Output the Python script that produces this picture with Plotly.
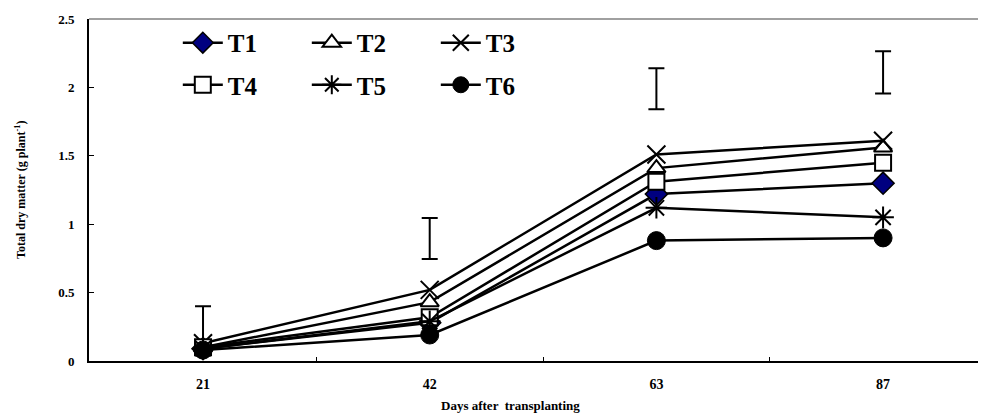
import plotly.graph_objects as go

days = ["21", "42", "63", "87"]
T1 = [0.09, 0.28, 1.22, 1.30]
T2 = [0.10, 0.43, 1.41, 1.56]
T3 = [0.13, 0.52, 1.51, 1.61]
T4 = [0.10, 0.32, 1.31, 1.45]
T5 = [0.09, 0.29, 1.12, 1.05]
T6 = [0.08, 0.19, 0.88, 0.90]
lsd_center = [0.25, 0.895, 1.99, 2.11]
lsd_half = [0.15, 0.15, 0.15, 0.155]

xpos = list(range(len(days)))
FONT = "Liberation Serif"

series = [
    ("T1", T1, dict(symbol="diamond", size=17, color="#000080", line=dict(color="black", width=1.5)), "legend"),
    ("T2", T2, dict(symbol="triangle-up", size=16, color="white", line=dict(color="black", width=2)), "legend"),
    ("T3", T3, dict(symbol="x-thin-open", size=18, color="black", line=dict(color="black", width=2)), "legend"),
    ("T4", T4, dict(symbol="square", size=16, color="white", line=dict(color="black", width=2)), "legend2"),
    ("T5", T5, dict(symbol="asterisk-open", size=18, color="black", line=dict(color="black", width=2)), "legend2"),
    ("T6", T6, dict(symbol="circle", size=18, color="black", line=dict(color="black", width=1)), "legend2"),
]

fig = go.Figure()
for name, vals, mk, lg in series:
    fig.add_trace(go.Scatter(
        x=xpos, y=vals, name=name, mode="lines+markers",
        line=dict(color="black", width=2.5), marker=mk, legend=lg,
    ))

fig.add_trace(go.Scatter(
    x=xpos, y=lsd_center, mode="markers", showlegend=False,
    marker=dict(size=1, color="rgba(0,0,0,0)"),
    error_y=dict(type="data", array=lsd_half, color="black", thickness=2, width=8),
    hoverinfo="skip",
))

legend_common = dict(
    orientation="h", font=dict(family=FONT, size=25, color="black", weight="bold"),
    bgcolor="rgba(0,0,0,0)", entrywidth=74, entrywidthmode="pixels",
    xanchor="left", yanchor="middle", itemwidth=40, tracegroupgap=0,
)

# page body has an 8px margin: compensate so the plot area lands at 89..986 x 19..361
fig.update_layout(
    width=986, height=417,
    margin=dict(l=81, r=8, t=11, b=64, autoexpand=False),
    paper_bgcolor="white", plot_bgcolor="white",
    showlegend=True,
    legend=dict(x=0.099, y=0.93, **legend_common),
    legend2=dict(x=0.099, y=0.807, **legend_common),
    xaxis=dict(
        range=[-0.503, 3.454], tickmode="array", tickvals=xpos, ticktext=days,
        ticks="", showgrid=False, zeroline=False, automargin=False,
        showline=True, linecolor="black", linewidth=2,
        tickfont=dict(family=FONT, size=14, color="black", weight="bold"),
        ticklabelstandoff=9,
        minor=dict(tickvals=[0.5, 1.5, 2.5], ticks="inside", ticklen=4, tickcolor="black", tickwidth=1),
    ),
    yaxis=dict(
        range=[0, 2.5], tickvals=[0, 0.5, 1, 1.5, 2, 2.5],
        ticktext=["0", "0.5", "1", "1.5", "2", "2.5"],
        ticks="inside", ticklen=5, tickcolor="black", tickwidth=1,
        showgrid=False, zeroline=False, automargin=False,
        showline=True, linecolor="black", linewidth=2,
        tickfont=dict(family=FONT, size=13, color="black", weight="bold"),
        ticklabelstandoff=10,
    ),
    shapes=[dict(type="line", xref="paper", yref="paper", x0=0, x1=1, y0=1, y1=1,
                 line=dict(color="#808080", width=1.5))],
    annotations=[
        dict(text="Total dry matter (g plant<sup>-1</sup>)", xref="paper", yref="paper",
             x=-0.077, y=0.5, xanchor="center", yanchor="middle", textangle=-90, showarrow=False,
             font=dict(family=FONT, size=12, color="black", weight="bold")),
        dict(text="Days after  transplanting", xref="paper", yref="paper",
             x=0.47, y=-0.13, xanchor="center", yanchor="middle", showarrow=False,
             font=dict(family=FONT, size=13, color="black", weight="bold")),
    ],
)

fig.write_html("out.html")
